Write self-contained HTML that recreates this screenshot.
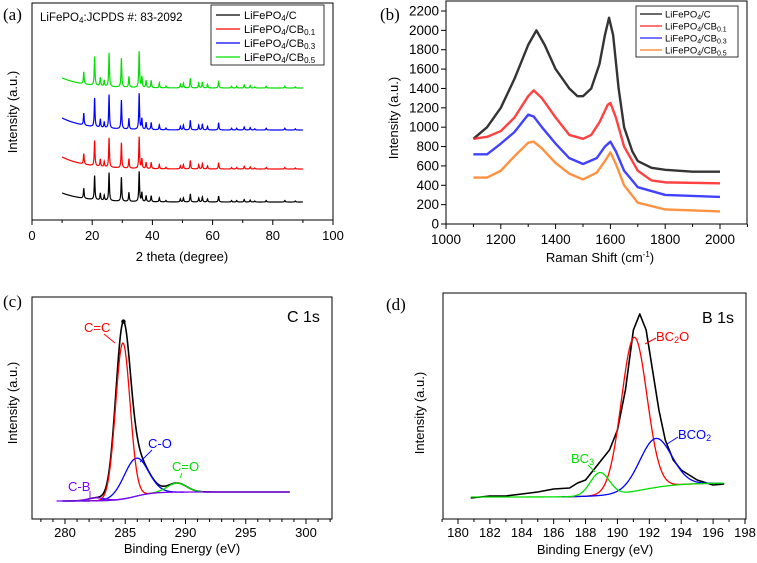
<!DOCTYPE html>
<html><head><meta charset="utf-8">
<style>
html,body{margin:0;padding:0;background:#fff;}
svg{display:block;font-family:"Liberation Sans",sans-serif;}
.serif{font-family:"Liberation Serif",serif;}
</style></head>
<body>
<svg id="fig" width="757" height="563" viewBox="0 0 757 563"></svg>
<script>
// ---------- Panel (a) XRD data ----------
const xrdPeakPos = [17.2,20.8,22.7,24.0,25.6,29.7,32.2,35.6,36.5,37.9,39.6,42.3,44.5,49.3,50.3,52.6,55.4,56.6,58.3,62.0,66.3,68.0,70.5,72.5,74.0,77.8,84.0,87.5];
const xrdPeakHeight = [10,24,7,5,28,24,9,30,9,6,6,4,1.5,3,4,8,4,5,3,6,1.5,1.5,2.5,2,1,1.5,1.5,1];
const xrdSeriesNames = ["LiFePO4/C","LiFePO4/CB0.1","LiFePO4/CB0.3","LiFePO4/CB0.5"];
const xrdBaseLevel = [18,51,90,132];
const xrdStartRise = [9,12,12,10];
const xrdPeakScale = [1,1.05,1.2,1.2];
const xrdColors = ["#000000","#ff0000","#0000ff","#00e000"];
const xrdXTicks = [0,20,40,60,80,100];

// ---------- Panel (b) Raman data ----------
const ramanX = {
  c:[1100,1150,1200,1250,1300,1330,1360,1400,1450,1480,1500,1530,1560,1580,1595,1610,1630,1650,1680,1700,1750,1800,1900,2000],
  b1:[1100,1150,1200,1250,1300,1320,1350,1400,1450,1500,1530,1560,1590,1600,1620,1650,1700,1750,1800,2000],
  b3:[1100,1150,1200,1250,1300,1320,1350,1400,1450,1500,1550,1580,1600,1620,1650,1700,1800,2000],
  b5:[1100,1150,1200,1250,1300,1320,1350,1400,1450,1500,1550,1580,1600,1620,1650,1700,1800,2000]
};
const ramanC  = [880,1000,1200,1500,1850,2000,1850,1600,1400,1320,1320,1400,1650,1950,2130,1950,1400,1000,750,650,580,560,540,540];
const ramanB1 = [880,900,960,1100,1320,1380,1300,1100,920,880,920,1050,1230,1250,1100,800,550,450,430,420];
const ramanB3 = [720,720,830,950,1130,1110,1000,830,680,620,680,800,850,750,550,380,300,280];
const ramanB5 = [480,480,550,700,840,850,780,630,520,460,530,650,740,620,400,220,150,130];
const ramanColors = ["#111111","#ff2020","#2020ff","#ff7f20"];
const ramanXTicks = [1000,1200,1400,1600,1800,2000];
const ramanYTicks = [0,200,400,600,800,1000,1200,1400,1600,1800,2000,2200];

// ---------- Panel (c) C 1s ----------
const c1sCenters = [284.8,285.9,289.3,282.6];
const c1sAmps = [78,19,4.5,1.5];
const c1sSigmas = [0.6,1.0,0.8,0.7];
const c1sNames = ["C=C","C-O","C=O","C-B"];
const c1sColors = ["#ff0000","#0000ff","#00dd00","#8000ff"];
const c1sBgLow = [4.5];
const c1sBgHigh = [9];
const c1sXTicks = [280,285,290,295,300];

// ---------- Panel (d) B 1s ----------
const b1sCenters = [191.05,192.4,188.9];
const b1sAmps = [77,24.5,11.5];
const b1sSigmas = [0.8,1.0,0.6];
const b1sColors = ["#ff0000","#0000ff","#00dd00"];
const b1sBgLow = [6.5];
const b1sBgHigh = [13.5];
const b1sBlackX = [180.8,182,183,184,185,186,187,187.5,188,188.5,189,189.5,190,190.5,191,191.4,191.8,192.2,192.6,193,193.5,194,195,196,196.7];
const b1sBlackY = [6,7,7,8,9,10.5,11,13.5,15,20,25,30,40,60,90,98,90,70,50,35,25,20,15,12.5,13];
const b1sXTicks = [180,182,184,186,188,190,192,194,196,198];

const NS="http://www.w3.org/2000/svg";
const svg=document.getElementById('fig');
function mk(tag,attrs,parent){const e=document.createElementNS(NS,tag);for(const k in attrs)e.setAttribute(k,attrs[k]);(parent||svg).appendChild(e);return e;}
function lin(d0,d1,r0,r1){return v=>r0+(v-d0)*(r1-r0)/(d1-d0);}
function pathFrom(xs,ys,sx,sy){let d="";for(let i=0;i<xs.length;i++){d+=(i?"L":"M")+sx(xs[i]).toFixed(2)+","+sy(ys[i]).toFixed(2);}return d;}
function txt(x,y,s,opts,parent){const t=mk('text',Object.assign({x:x,y:y,'font-size':13,fill:'#000'},opts||{}),parent);t.textContent=s;return t;}

// ======== Panel A ========
const gA=mk('g',{});


const ax=lin(0,100,32,333), ay=lin(0,217,220,3);
const frA=mk('rect',{x:32,y:3,width:301,height:217,fill:'none',stroke:'#000','stroke-width':1},gA);


for(let v=0;v<=100;v+=10){mk('line',{x1:ax(v),x2:ax(v),y1:220,y2:v%20===0?225:223,stroke:'#000'},gA);}
xrdXTicks.forEach(v=>{const t=txt(ax(v),240,String(v),{'text-anchor':'middle'},gA);});
let t=txt(182,261,"2 theta (degree)",{'text-anchor':'middle'},gA);


t=txt(0,0,"Intensity (a.u.)",{'text-anchor':'middle',transform:'translate(17,112) rotate(-90)'},gA);


t=txt(3,20,"(a)",{'font-size':17,class:'serif'},gA);


t=txt(40,21,"",{'font-size':11.5},gA);
t.innerHTML='LiFePO<tspan font-size="8" dy="2">4</tspan><tspan dy="-2">:JCPDS #: 83-2092</tspan>';


xrdSeriesNames.forEach((nm,si)=>{
  const xs=[],ys=[];
  for(let x=10;x<=90.001;x+=0.05){
    let y=xrdBaseLevel[si]+xrdStartRise[si]*Math.exp(-(x-10)/8);
    for(let k=0;k<xrdPeakPos.length;k++){const dx=(x-xrdPeakPos[k])/0.15;y+=xrdPeakScale[si]*xrdPeakHeight[k]/(1+dx*dx);}
    xs.push(x);ys.push(y);
  }
  const p=mk('path',{d:pathFrom(xs,ys,ax,ay),fill:'none',stroke:xrdColors[si],'stroke-width':1.2},gA);
  
  
});
const lgA=mk('g',{},gA);


mk('rect',{x:211,y:5,width:113,height:60,fill:'#fff',stroke:'#000','stroke-width':0.8},lgA);
xrdSeriesNames.forEach((nm,i)=>{
  const y=15+i*14;
  mk('line',{x1:216,x2:240,y1:y,y2:y,stroke:xrdColors[i],'stroke-width':1.2},lgA);
  const tt=txt(244,y+4,"",{'font-size':11},lgA);
  const sub=nm.split('/')[1];
  tt.innerHTML='LiFePO<tspan font-size="8" dy="2">4</tspan><tspan dy="-2">/'+(sub==='C'?'C':'CB<tspan font-size="8" dy="2">'+sub.slice(2)+'</tspan>')+'</tspan>';
  
  
});

// ======== Panel B ========
const gB=mk('g',{});


const bx=lin(1000,2000,446,720), by=lin(0,2200,224,11);
const frB=mk('rect',{x:446,y:1,width:301,height:223,fill:'none',stroke:'#000'},gB);


for(let v=1000;v<=2100;v+=100){mk('line',{x1:bx(v),x2:bx(v),y1:224,y2:v%200===0?229:227,stroke:'#000'},gB);}
ramanXTicks.forEach(v=>{const tt=txt(bx(v),244,String(v),{'text-anchor':'middle','font-size':13.5},gB);});
ramanYTicks.forEach(v=>{mk('line',{x1:441,x2:446,y1:by(v),y2:by(v),stroke:'#000'},gB);const tt=txt(439,by(v)+4.5,String(v),{'text-anchor':'end','font-size':13.5},gB);});
t=txt(600,262,"",{'text-anchor':'middle'},gB);
t.innerHTML='Raman Shift (cm<tspan font-size="8" dy="-5">-1</tspan><tspan dy="5">)</tspan>';


t=txt(0,0,"Intensity (a.u.)",{'text-anchor':'middle',transform:'translate(398,118) rotate(-90)'},gB);


t=txt(380,20,"(b)",{'font-size':17,class:'serif'},gB);


const ramanSets=[[ramanX.c,ramanC],[ramanX.b1,ramanB1],[ramanX.b3,ramanB3],[ramanX.b5,ramanB5]];
ramanSets.forEach((s,i)=>{
  const p=mk('path',{d:pathFrom(s[0],s[1],bx,by),fill:'none',stroke:ramanColors[i],'stroke-width':2.4,'stroke-linejoin':'round','stroke-opacity':0.85},gB);
  
  
});
const lgB=mk('g',{},gB);


mk('rect',{x:636,y:6,width:102,height:51,fill:'#fff',stroke:'#000','stroke-width':0.8},lgB);
xrdSeriesNames.forEach((nm,i)=>{
  const y=14+i*12;
  mk('line',{x1:640,x2:662,y1:y,y2:y,stroke:ramanColors[i],'stroke-width':1.2},lgB);
  const tt=txt(665,y+3.5,"",{'font-size':9.5},lgB);
  const sub=nm.split('/')[1];
  tt.innerHTML='LiFePO<tspan font-size="7" dy="2">4</tspan><tspan dy="-2">/'+(sub==='C'?'C':'CB<tspan font-size="7" dy="2">'+sub.slice(2)+'</tspan>')+'</tspan>';
  
  
});

// ======== Panel C ========
const gC=mk('g',{});


const cx=lin(280,300,65,306), cy=lin(0,100,510,310);
const frC=mk('rect',{x:32,y:297,width:300,height:222,fill:'none',stroke:'#000'},gC);


for(let v=278;v<=302;v++){mk('line',{x1:cx(v),x2:cx(v),y1:519,y2:v%5===0?524:522,stroke:'#000'},gC);}
c1sXTicks.forEach(v=>{const tt=txt(cx(v),537,String(v),{'text-anchor':'middle'},gC);});
t=txt(182,553,"Binding Energy (eV)",{'text-anchor':'middle'},gC);


t=txt(0,0,"Intensity (a.u.)",{'text-anchor':'middle',transform:'translate(17,403) rotate(-90)'},gC);


t=txt(3,307,"(c)",{'font-size':17,class:'serif'},gC);


t=txt(287,322,"C 1s",{'font-size':16},gC);


function gauss(x,c,a,s){return a*Math.exp(-(x-c)*(x-c)/(2*s*s));}
function bgC(x){return c1sBgLow[0]+(c1sBgHigh[0]-c1sBgLow[0])/(1+Math.exp(-(x-285.8)/0.8));}
{
  const xs=[],ys=[];
  for(let x=279.8;x<=298.7;x+=0.05){let y=bgC(x);for(let k=0;k<c1sCenters.length;k++)y+=gauss(x,c1sCenters[k],c1sAmps[k],c1sSigmas[k]);xs.push(x);ys.push(y);}
  const p=mk('path',{d:pathFrom(xs,ys,cx,cy),fill:'none',stroke:'#000','stroke-width':1.6},gC);
  
  
  mk('circle',{cx:cx(284.85),cy:cy(ys[Math.round((284.85-279.8)/0.05)]),r:2.2,fill:'#000'},gC);
}
[1,2,0,3].forEach(k=>{
  const xs=[],ys=[];
  const lo=k===2?279.8:c1sCenters[k]-4*c1sSigmas[k]-0.5, hi=k===2?291.5:c1sCenters[k]+4*c1sSigmas[k];
  for(let x=lo;x<=hi;x+=0.05){xs.push(x);ys.push(bgC(x)+gauss(x,c1sCenters[k],c1sAmps[k],c1sSigmas[k]));}
  const p=mk('path',{d:pathFrom(xs,ys,cx,cy),fill:'none',stroke:c1sColors[k],'stroke-width':1.3},gC);
  
  
});
{
  const xs=[],ys=[];for(let x=279.8;x<=298.7;x+=0.1){xs.push(x);ys.push(bgC(x));}
  const p=mk('path',{d:pathFrom(xs,ys,cx,cy),fill:'none',stroke:'#8000ff','stroke-width':1.3},gC);
  
  
}
const c1sLabelPos=[[84,332,115,343],[148,448,140,462],[172,471,180,478],[68,491,90,495]];
c1sNames.forEach((nm,k)=>{
  const L=c1sLabelPos[k];
  const tt=txt(L[0],L[1],nm,{'font-size':13,fill:c1sColors[k]},gC);
  
  
  mk('line',{x1:L[0]+(k===0?20:k===1?4:k===2?10:22),y1:L[1]+(k===3?0:2),x2:L[2],y2:L[3]+(k===3?4:0),stroke:c1sColors[k],'stroke-width':0.9},gC);
});

// ======== Panel D ========
const gD=mk('g',{});


const dx=lin(180,198,458,745), dy=lin(0,100,510,310);
const frD=mk('rect',{x:443,y:293,width:303,height:226,fill:'none',stroke:'#000'},gD);


for(let v=179;v<=198;v++){mk('line',{x1:dx(v),x2:dx(v),y1:519,y2:v%2===0?524:522,stroke:'#000'},gD);}
b1sXTicks.forEach(v=>{const tt=txt(dx(v),537,String(v),{'text-anchor':'middle'},gD);});
t=txt(595,554,"Binding Energy (eV)",{'text-anchor':'middle'},gD);


t=txt(0,0,"Intensity (a.u.)",{'text-anchor':'middle',transform:'translate(424,413) rotate(-90)'},gD);


t=txt(386,310,"(d)",{'font-size':17,class:'serif'},gD);


t=txt(702,323,"B 1s",{'font-size':16},gD);


function bgD(x){return b1sBgLow[0]+(b1sBgHigh[0]-b1sBgLow[0])/(1+Math.exp(-(x-191.5)/1.2));}
{
  const p=mk('path',{d:pathFrom(b1sBlackX,b1sBlackY,dx,dy),fill:'none',stroke:'#000','stroke-width':1.6,'stroke-linejoin':'round'},gD);
  
  
}
const b1sNames=["BC2O","BCO2","BC3"];
[0,1].forEach(k=>{
  const xs=[],ys=[];
  for(let x=186.5;x<=196.7;x+=0.05){xs.push(x);ys.push(bgD(x)+gauss(x,b1sCenters[k],b1sAmps[k],b1sSigmas[k]));}
  const p=mk('path',{d:pathFrom(xs,ys,dx,dy),fill:'none',stroke:b1sColors[k],'stroke-width':1.3},gD);
  
  
});
{
  const xs=[],ys=[];
  for(let x=180.8;x<=196.7;x+=0.05){xs.push(x);ys.push(bgD(x)+gauss(x,b1sCenters[2],b1sAmps[2],b1sSigmas[2]));}
  const p=mk('path',{d:pathFrom(xs,ys,dx,dy),fill:'none',stroke:b1sColors[2],'stroke-width':1.3},gD);
  
  
}
t=txt(656,341,"",{'font-size':13,fill:'#ff0000'},gD);
t.innerHTML='BC<tspan font-size="9" dy="2">2</tspan><tspan dy="-2">O</tspan>';


mk('line',{x1:656,y1:338,x2:645,y2:344,stroke:'#ff0000'},gD);
t=txt(678,439,"",{'font-size':13,fill:'#0000ff'},gD);
t.innerHTML='BCO<tspan font-size="9" dy="2">2</tspan>';


mk('line',{x1:678,y1:437,x2:667,y2:444,stroke:'#0000ff'},gD);
t=txt(571,463,"",{'font-size':13,fill:'#00dd00'},gD);
t.innerHTML='BC<tspan font-size="9" dy="2">3</tspan>';


mk('line',{x1:588,y1:465,x2:595,y2:472,stroke:'#00dd00'},gD);
</script>
</body></html>
